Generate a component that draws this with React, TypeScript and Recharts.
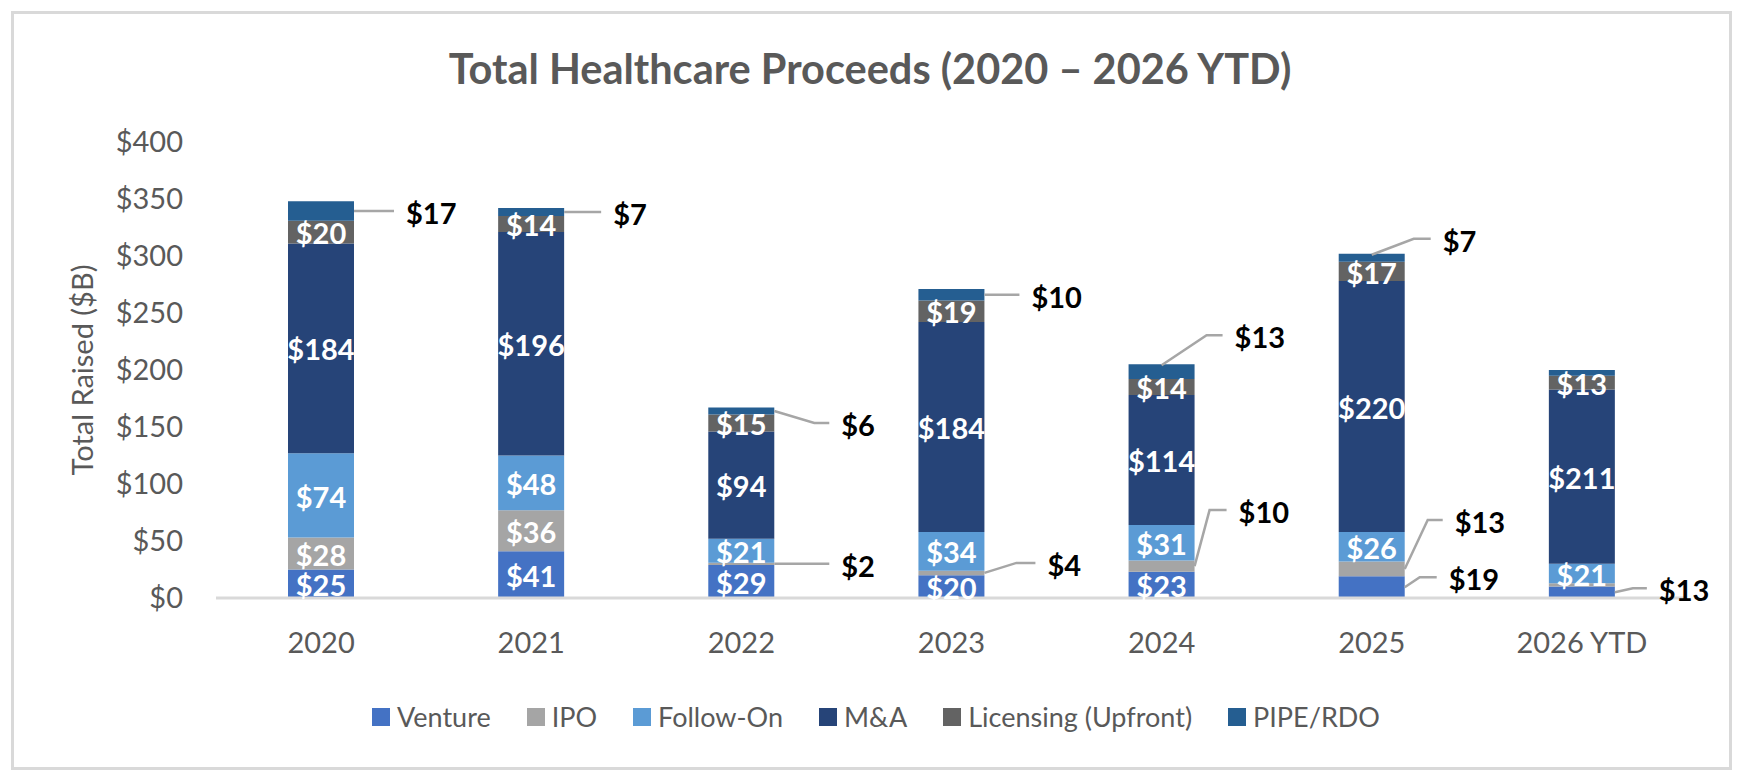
import React from 'react';
import { BarChart, Bar, XAxis, YAxis, Legend, LabelList } from 'recharts';

// ---------- data ----------
const categories = ['2020', '2021', '2022', '2023', '2024', '2025', '2026 YTD'];

// bar heights ($B) as drawn
const venture = [25, 41, 29, 20, 23, 19, 10];
const ipo = [28, 36, 2, 4, 10, 13, 3];
const followOn = [74, 48, 21, 34, 31, 26, 17];
const mna = [184, 196, 94, 184, 114, 220, 153];
const licensing = [20, 14, 15, 19, 14, 17, 12];
const pipeRdo = [17, 7, 6, 10, 13, 7, 5];

// data-label texts ($B) as printed on the chart (null = no label)
const ventureLabels = [25, 41, 29, 20, 23, 19, 13];
const ipoLabels = [28, 36, 2, 4, 10, 13, null];
const followOnLabels = [74, 48, 21, 34, 31, 26, 21];
const mnaLabels = [184, 196, 94, 184, 114, 220, 211];
const licensingLabels = [20, 14, 15, 19, 14, 17, 13];
const pipeRdoLabels = [17, 7, 6, 10, 13, 7, null];

const yTicks = [0, 50, 100, 150, 200, 250, 300, 350, 400];

const TITLE = 'Total Healthcare Proceeds (2020 \u2013 2026 YTD)';
const Y_TITLE = 'Total Raised ($B)';

// ---------- styles ----------
const FONT = "Lato, 'Open Sans', 'DejaVu Sans', sans-serif";
const GREY_TEXT = '#595959';

const seriesDefs = [
  { key: 'venture', name: 'Venture', values: venture, labels: ventureLabels, color: '#4472C4' },
  { key: 'ipo', name: 'IPO', values: ipo, labels: ipoLabels, color: '#A5A5A5' },
  { key: 'followOn', name: 'Follow-On', values: followOn, labels: followOnLabels, color: '#5B9BD5' },
  { key: 'mna', name: 'M&A', values: mna, labels: mnaLabels, color: '#264478' },
  { key: 'licensing', name: 'Licensing (Upfront)', values: licensing, labels: licensingLabels, color: '#636363' },
  { key: 'pipeRdo', name: 'PIPE/RDO', values: pipeRdo, labels: pipeRdoLabels, color: '#255E91' },
];

// callout (leader line) styling for labels placed outside their segment
type Callout = { anchor: 'right' | 'top'; dx: number; dy: number; len: number };
const callouts: Record<string, Callout> = {
  'pipeRdo|2020': { anchor: 'right', dx: 0, dy: 0, len: 40 },
  'pipeRdo|2021': { anchor: 'right', dx: 0, dy: 0, len: 37 },
  'pipeRdo|2022': { anchor: 'right', dx: 40, dy: 12, len: 15 },
  'ipo|2022': { anchor: 'right', dx: 0, dy: 0, len: 55 },
  'pipeRdo|2023': { anchor: 'right', dx: 0, dy: 0, len: 35 },
  'ipo|2023': { anchor: 'right', dx: 32, dy: -10, len: 19 },
  'pipeRdo|2024': { anchor: 'top', dx: 45, dy: -30, len: 16 },
  'ipo|2024': { anchor: 'right', dx: 15, dy: -56, len: 17 },
  'pipeRdo|2025': { anchor: 'top', dx: 42, dy: -16, len: 17 },
  'ipo|2025': { anchor: 'right', dx: 23, dy: -49, len: 15 },
  'venture|2025': { anchor: 'right', dx: 15, dy: -10, len: 17 },
  'venture|2026 YTD': { anchor: 'right', dx: 18, dy: -4, len: 14 },
};

const data = categories.map((category, i) => {
  const row: Record<string, string | number> = { category };
  seriesDefs.forEach((s) => {
    row[s.key] = s.values[i];
  });
  return row;
});

function makeLabel(s: (typeof seriesDefs)[number]) {
  return (p: any) => {
    const vb = p.viewBox || p;
    if (!vb) return null;
    const i = p.index;
    const lab = s.labels[i];
    if (lab == null) return null;
    const x = vb.x;
    const w = vb.width;
    const top = Math.min(vb.y, vb.y + vb.height);
    const h = Math.abs(vb.height);
    const text = `$${lab}`;
    const co = callouts[`${s.key}|${categories[i]}`];
    if (!co) {
      return (
        <text
          x={x + w / 2}
          y={top + h / 2 + 2}
          dy="0.35em"
          textAnchor="middle"
          fill="#ffffff"
          fontFamily={FONT}
          fontWeight={700}
          fontSize={29}
        >
          {text}
        </text>
      );
    }
    const ax = co.anchor === 'top' ? x + w / 2 : x + w;
    const ay = co.anchor === 'top' ? top + 1 : top + h / 2;
    const ex = ax + co.dx;
    const ey = ay + co.dy;
    const fx = ex + co.len;
    return (
      <g>
        <polyline
          points={`${ax},${ay} ${ex},${ey} ${fx},${ey}`}
          fill="none"
          stroke="#A6A6A6"
          strokeWidth={2.5}
        />
        <text
          x={fx + 12}
          y={ey + 3}
          dy="0.35em"
          textAnchor="start"
          fill="#000000"
          fontFamily={FONT}
          fontWeight={700}
          fontSize={29}
        >
          {text}
        </text>
      </g>
    );
  };
}

const XTick = (p: any) => (
  <text
    x={p.x}
    y={p.y}
    dy="0.35em"
    textAnchor="middle"
    fill={GREY_TEXT}
    fontFamily={FONT}
    fontSize={29}
  >
    {p.payload.value}
  </text>
);

const YTick = (p: any) => (
  <text
    x={p.x}
    y={p.y}
    dy="0.35em"
    textAnchor="end"
    fill={GREY_TEXT}
    fontFamily={FONT}
    fontSize={29}
  >
    {`$${p.payload.value}`}
  </text>
);

const YTitle = (p: any) => {
  const vb = p.viewBox || { x: 0, y: 134, width: 208, height: 456 };
  const cx = vb.x + 75;
  const cy = vb.y + vb.height / 2;
  return (
    <text
      x={cx}
      y={cy}
      dy="0.35em"
      textAnchor="middle"
      transform={`rotate(-90 ${cx} ${cy})`}
      fill={GREY_TEXT}
      fontFamily={FONT}
      fontSize={29}
    >
      {Y_TITLE}
    </text>
  );
};

// legend keeps the stacking order of the series
const LegendContent = () => (
  <div
    style={{
      display: 'flex',
      justifyContent: 'center',
      alignItems: 'center',
      gap: 36,
      fontFamily: FONT,
      fontSize: 27,
      color: GREY_TEXT,
      height: 32,
      lineHeight: '32px',
      paddingLeft: 12,
    }}
  >
    {seriesDefs.map((it) => (
      <div key={it.key} style={{ display: 'flex', alignItems: 'center' }}>
        <span
          style={{
            display: 'inline-block',
            width: 18,
            height: 18,
            background: it.color,
            marginRight: 7,
          }}
        />
        <span>{it.name}</span>
      </div>
    ))}
  </div>
);

export default function App() {
  return (
    <div style={{ position: 'relative', width: 1724, height: 762, fontFamily: FONT, background: '#ffffff' }}>
      <div
        style={{
          position: 'absolute',
          left: 3,
          top: 3,
          width: 1721,
          height: 759,
          border: '3px solid #D9D9D9',
          boxSizing: 'border-box',
        }}
      />
      <div
        style={{
          position: 'absolute',
          left: 0,
          top: 40,
          width: 1724,
          textAlign: 'center',
          fontFamily: FONT,
          fontWeight: 700,
          fontSize: 41.5,
          lineHeight: 1,
          color: GREY_TEXT,
          whiteSpace: 'nowrap',
        }}
      >
        {TITLE}
      </div>
      <div style={{ position: 'absolute', left: 0, top: 0 }}>
        <BarChart
          width={1724}
          height={762}
          data={data}
          margin={{ top: 134, right: 45, bottom: 142, left: 0 }}
          barSize={66}
        >
          <XAxis
            dataKey="category"
            height={30}
            axisLine={{ stroke: '#D9D9D9', strokeWidth: 3 }}
            tickLine={false}
            tickSize={0}
            tickMargin={45}
            tick={XTick}
            interval={0}
          />
          <YAxis
            width={208}
            domain={[0, 400]}
            ticks={yTicks}
            axisLine={false}
            tickLine={false}
            tickSize={0}
            tickMargin={33}
            tick={YTick}
            interval={0}
            label={{ value: Y_TITLE, content: YTitle }}
          />
          <Legend
            layout="horizontal"
            verticalAlign="middle"
            align="center"
            content={LegendContent}
            wrapperStyle={{ top: 693, left: 0, width: 1724, height: 32 }}
          />
          {seriesDefs.map((s) => (
            <Bar
              key={s.key}
              dataKey={s.key}
              name={s.name}
              stackId="total"
              fill={s.color}
              isAnimationActive={false}
            >
              <LabelList dataKey={s.key} content={makeLabel(s)} />
            </Bar>
          ))}
        </BarChart>
      </div>
    </div>
  );
}
